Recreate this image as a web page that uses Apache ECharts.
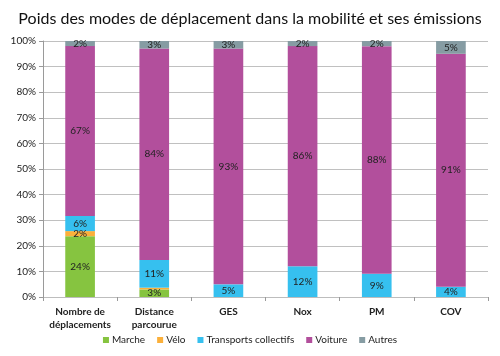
<!DOCTYPE html>
<html><head><meta charset="utf-8">
<script src="https://cdn.jsdelivr.net/npm/echarts@6/dist/echarts.min.js"></script>
<style>html,body{margin:0;padding:0;background:#fff}#c{width:500px;height:356px}</style>
</head><body><div id="c"></div>
<script>
const categories = ['Nombre de\ndéplacements', 'Distance\nparcourue', 'GES', 'Nox', 'PM', 'COV'];
const marche = [24, 3, 0, 0, 0, 0];
const velo = [2, 0.7, 0, 0, 0, 0];
const transports = [6, 11, 5, 12, 9, 4];
const voiture = [67, 84, 93, 86, 88, 91];
const autres = [2, 3, 3, 2, 2, 5];
const seriesNames = ['Marche', 'Vélo', 'Transports collectifs', 'Voiture', 'Autres'];
const colors = ['#86c440', '#fbb03b', '#36c0ef', '#b24f9c', '#869ca3'];
const yTicks = [0, 10, 20, 30, 40, 50, 60, 70, 80, 90, 100];

const raw = [marche, velo, transports, voiture, autres];
const totals = categories.map((_, i) => raw.reduce((s, a) => s + a[i], 0));
const FONT = 'Lato';

const series = raw.map((arr, k) => ({
  name: seriesNames[k],
  type: 'bar',
  stack: 'total',
  barWidth: '40%',
  itemStyle: { color: colors[k] },
  data: arr.map((v, i) => ({ value: v / totals[i] * 100, raw: v })),
  label: {
    show: true,
    position: 'inside',
    fontFamily: FONT,
    fontSize: 10,
    color: '#222',
    formatter: p => (p.data.raw >= 1.5 ? Math.round(p.data.raw) + '%' : '')
  }
}));

const chart = echarts.init(document.getElementById('c'), null, { renderer: 'canvas' });
chart.setOption({
  animation: false,
  title: {
    text: 'Poids des modes de déplacement dans la mobilité et ses émissions',
    left: 'center', top: 6,
    textStyle: { fontFamily: FONT, fontSize: 16, fontWeight: 'normal', color: '#111' }
  },
  legend: {
    bottom: 6, left: 'center',
    itemWidth: 6, itemHeight: 6, itemGap: 12,
    icon: 'rect',
    textStyle: { fontFamily: FONT, fontSize: 10, color: '#222', padding: [0, 0, 0, -2] },
    data: seriesNames
  },
  grid: { left: 43, right: 12, top: 41, bottom: 59, containLabel: false },
  xAxis: {
    type: 'category',
    data: categories,
    axisLine: { lineStyle: { color: '#bdbdbd' } },
    axisTick: { show: true, alignWithLabel: false, length: 4, lineStyle: { color: '#9a9a9a' } },
    axisLabel: { fontFamily: FONT, fontSize: 10, fontWeight: 'bold', color: '#222', margin: 8, lineHeight: 13, interval: 0 }
  },
  yAxis: {
    type: 'value', min: 0, max: 100, interval: 10,
    axisLine: { show: true, lineStyle: { color: '#9a9a9a' } },
    axisTick: { show: true, length: 4, lineStyle: { color: '#9a9a9a' } },
    splitLine: { lineStyle: { color: '#c0c0c0' } },
    axisLabel: {
      fontFamily: FONT, fontSize: 10, color: '#222', margin: 7,
      formatter: v => (yTicks.includes(v) ? v + '%' : '')
    }
  },
  series: series
});
</script>
</body></html>
